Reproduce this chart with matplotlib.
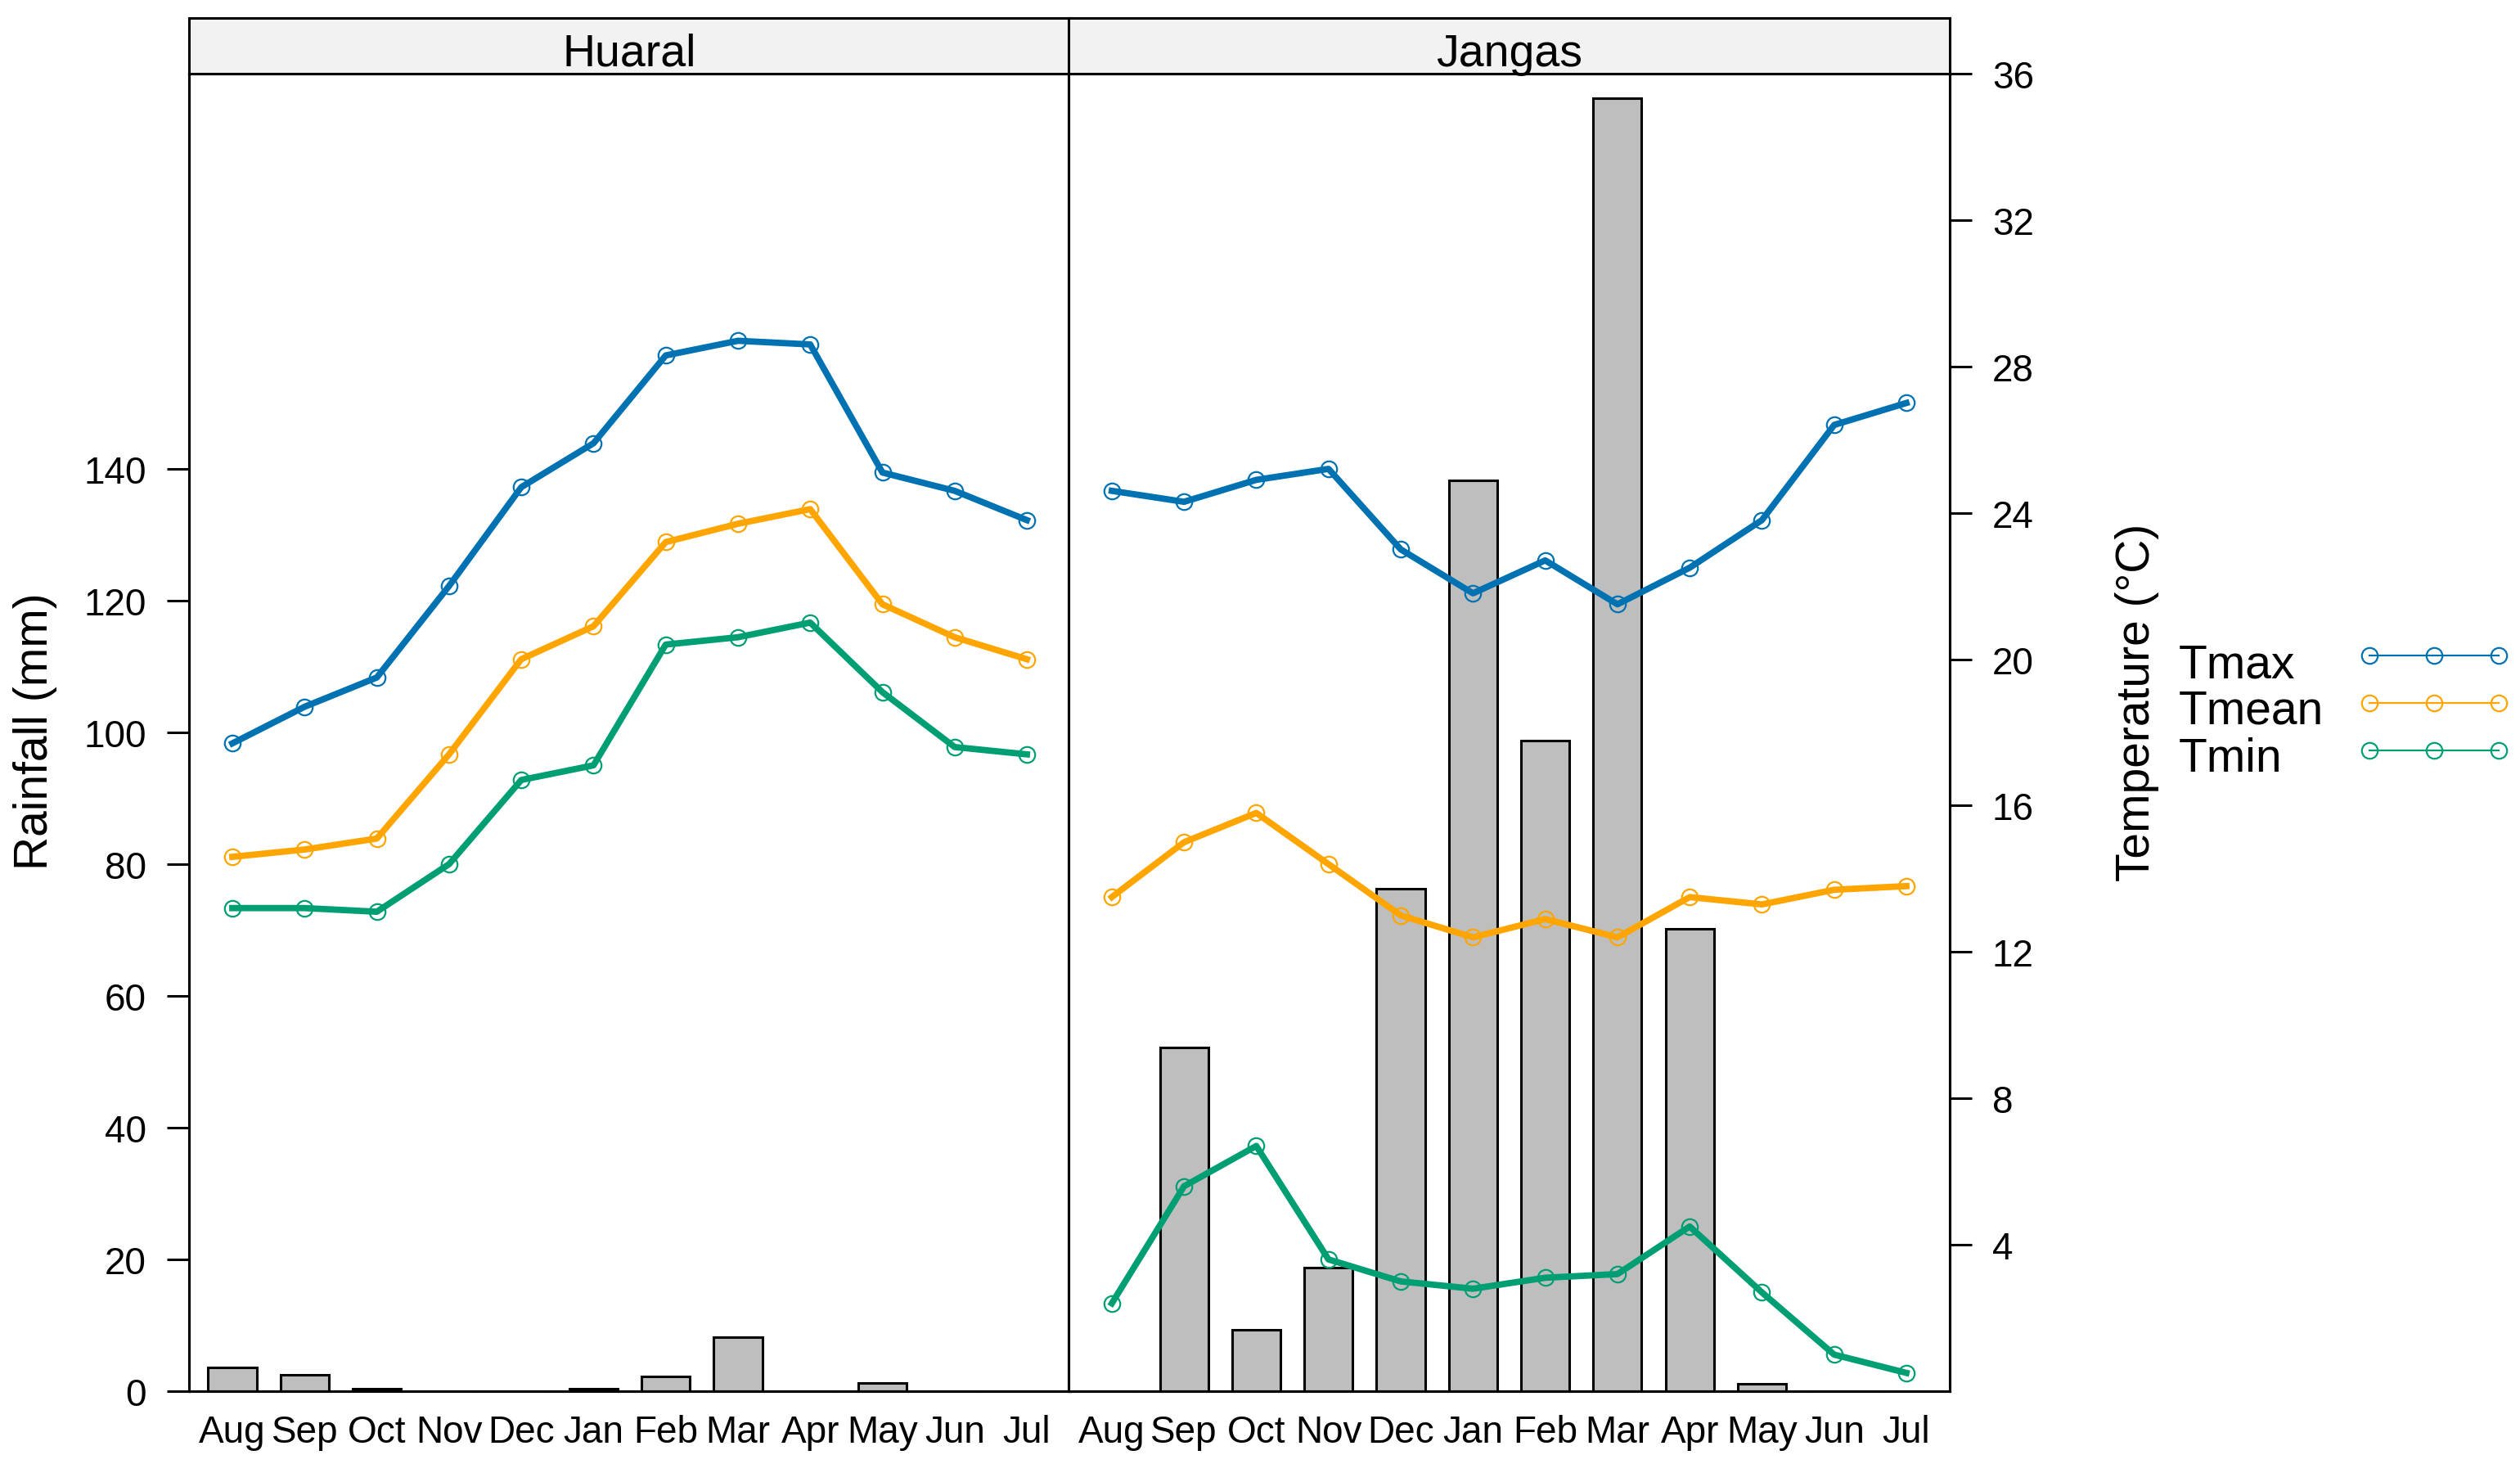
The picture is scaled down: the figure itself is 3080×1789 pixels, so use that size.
import matplotlib.pyplot as plt
from matplotlib.lines import Line2D
import numpy as np

plt.rcParams['font.family'] = ['Liberation Sans', 'DejaVu Sans']

months = ['Aug', 'Sep', 'Oct', 'Nov', 'Dec', 'Jan', 'Feb', 'Mar', 'Apr', 'May', 'Jun', 'Jul']
sites = ['Huaral', 'Jangas']

# monthly rainfall (mm)
rain_huaral = [3.6, 2.5, 0.4, 0, 0, 0.4, 2.2, 8.2, 0, 1.2, 0, 0]
rain_jangas = [0, 52.2, 9.3, 18.8, 76.3, 138.3, 98.8, 196.3, 70.2, 1.1, 0, 0]

# temperatures (deg C)
tmax_huaral = [17.7, 18.7, 19.5, 22.0, 24.7, 25.9, 28.3, 28.7, 28.6, 25.1, 24.6, 23.8]
tmean_huaral = [14.6, 14.8, 15.1, 17.4, 20.0, 20.9, 23.2, 23.7, 24.1, 21.5, 20.6, 20.0]
tmin_huaral = [13.2, 13.2, 13.1, 14.4, 16.7, 17.1, 20.4, 20.6, 21.0, 19.1, 17.6, 17.4]

tmax_jangas = [24.6, 24.3, 24.9, 25.2, 23.0, 21.8, 22.7, 21.5, 22.5, 23.8, 26.4, 27.0]
tmean_jangas = [13.5, 15.0, 15.8, 14.4, 13.0, 12.4, 12.9, 12.4, 13.5, 13.3, 13.7, 13.8]
tmin_jangas = [2.4, 5.6, 6.7, 3.6, 3.0, 2.8, 3.1, 3.2, 4.5, 2.7, 1.0, 0.5]

series = ['Tmax', 'Tmean', 'Tmin']
colors = {'Tmax': '#0072B2', 'Tmean': '#FFA500', 'Tmin': '#009E73'}

rain = {'Huaral': rain_huaral, 'Jangas': rain_jangas}
temps = {'Huaral': {'Tmax': tmax_huaral, 'Tmean': tmean_huaral, 'Tmin': tmin_huaral},
         'Jangas': {'Tmax': tmax_jangas, 'Tmean': tmean_jangas, 'Tmin': tmin_jangas}}

fig = plt.figure(figsize=(15.4, 8.95), dpi=200)

x = np.arange(1, 13)
lw_frame = 1.1
lefts = [0.0750, 0.4240]
width = 0.3497
bottom = 0.0497
top = 0.9492
strip_top = 0.9872

for i, site in enumerate(sites):
    ax = fig.add_axes([lefts[i], bottom, width, top - bottom])
    ax.bar(x, rain[site], width=0.67, color='#BEBEBE', edgecolor='black', linewidth=1.1)
    ax.set_xlim(0.4, 12.6)
    ax.set_ylim(0, 200)
    ax.set_xticks(x)
    ax.set_xticklabels(months, fontsize=16.5)
    ax.tick_params(axis='x', length=0, pad=10)
    for sp in ax.spines.values():
        sp.set_linewidth(lw_frame)
    if i == 0:
        ax.set_yticks(np.arange(0, 141, 20))
        ax.tick_params(axis='y', labelsize=16.5, length=9.7, width=1.1, pad=9)
    else:
        ax.set_yticks([])

    axt = ax.twinx()
    for s in series:
        axt.plot(x, temps[site][s], color=colors[s], linewidth=2.8,
                 marker='o', markersize=7, markerfacecolor='none',
                 markeredgewidth=0.8, markeredgecolor=colors[s])
    axt.set_ylim(0, 36)
    if i == 1:
        axt.set_yticks(np.arange(4, 37, 4))
        axt.tick_params(axis='y', labelsize=16.5, length=9.7, width=1.1, pad=9)
    else:
        axt.set_yticks([])
    for sp in axt.spines.values():
        sp.set_linewidth(lw_frame)

    # strip
    sax = fig.add_axes([lefts[i], top, width, strip_top - top])
    sax.set_facecolor('#F2F2F2')
    sax.set_xticks([])
    sax.set_yticks([])
    for sp in sax.spines.values():
        sp.set_linewidth(lw_frame)
    sax.text(0.5, 0.147, site, ha='center', va='baseline', fontsize=20,
             transform=sax.transAxes)

fig.text(0.014, 0.5006, 'Rainfall (mm)', rotation=90, ha='center', va='center', fontsize=20.5)
fig.text(0.848, 0.5207, 'Temperature (°C)', rotation=90, ha='center', va='center', fontsize=20.5)

# legend drawn by hand so the labels sit left-aligned in front of the keys
key_y = [0.5520, 0.5196, 0.4872]
text_y = [0.5374, 0.5056, 0.4732]
for s, ky, ty in zip(series, key_y, text_y):
    fig.text(0.8646, ty, s, ha='left', va='baseline', fontsize=20.5)
    fig.add_artist(Line2D([0.9403, 0.9659, 0.9915], [ky, ky, ky], transform=fig.transFigure,
                          color=colors[s], linewidth=0.8, marker='o', markersize=7,
                          markerfacecolor='none', markeredgewidth=0.8))

fig.savefig('out.png', dpi=200)
